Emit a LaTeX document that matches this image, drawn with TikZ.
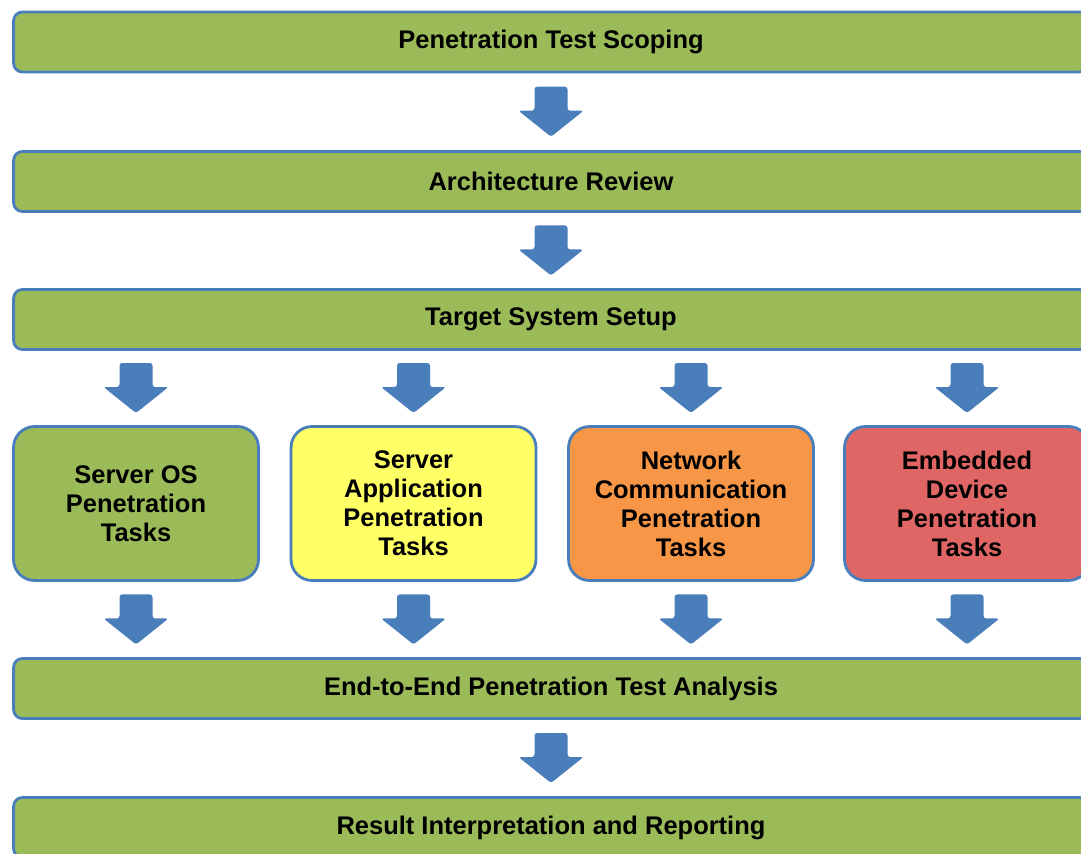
\documentclass[tikz,border=0pt]{standalone}
\usepackage{fontspec}
\setmainfont{Liberation Sans}
\usepackage{tikz}
\usetikzlibrary{calc}

\definecolor{barblue}{HTML}{4A7EBB}
\definecolor{stepgreen}{HTML}{9BBB59}
\definecolor{stepyellow}{HTML}{FFFF66}
\definecolor{steporange}{HTML}{F79646}
\definecolor{stepred}{HTML}{E06666}

% block arrow, centred on the point given
\newcommand{\blockarrow}[1]{%
	\fill[barblue, rounded corners=1.5pt] #1 ++(-16.5,-25) -- ++(33,0) -- ++(0,24)
		-- ++(16,0) -- ++(-32.5,26) -- ++(-32.5,-26) -- ++(16,0) -- cycle;}

\begin{document}
\begin{tikzpicture}[x=0.02cm, y=-0.02cm]
	\useasboundingbox (0,0) rectangle (1081,854);
	\tikzstyle{every node} = [font=\bfseries\fontsize{14.5}{16.5}\selectfont, align=center, text=black]
	\tikzstyle{stage} = [draw=barblue, line width=1.6pt, fill=stepgreen, rounded corners=5pt,
		minimum width=21.5cm, minimum height=1.2cm, inner sep=0pt]
	\tikzstyle{task} = [draw=barblue, line width=1.6pt, rounded corners=12pt,
		minimum width=4.9cm, minimum height=3.08cm, inner sep=0pt]
	% stages
	\node[stage] (scope) at (551,42) {Penetration Test Scoping};
	\node[stage] (arch) at (551,181.5) {Architecture Review};
	\node[stage] (setup) at (551,319.5) {Target System Setup};
	\node[stage] (analysis) at (551,688.5) {End-to-End Penetration Test Analysis};
	\node[stage] (report) at (551,827.5) {Result Interpretation and Reporting};
	% parallel tasks
	\node[task, fill=stepgreen] (os) at (136,503.5) {Server OS\\Penetration\\Tasks};
	\node[task, fill=stepyellow] (app) at (413.5,503.5) {Server\\Application\\Penetration\\Tasks};
	\node[task, fill=steporange] (net) at (691,503.5) {Network\\Communication\\Penetration\\Tasks};
	\node[task, fill=stepred] (emb) at (967,503.5) {Embedded\\Device\\Penetration\\Tasks};
	% arrows
	\blockarrow{($(scope.south)!.5!(arch.north)$)}
	\blockarrow{($(arch.south)!.5!(setup.north)$)}
	\foreach \t in {os,app,net,emb} {
		\blockarrow{($(\t.north |- setup.south)!.5!(\t.north)$)}
		\blockarrow{($(\t.south)!.5!(\t.south |- analysis.north)$)}
	}
	\blockarrow{($(analysis.south)!.5!(report.north)$)}
\end{tikzpicture}
\end{document}
